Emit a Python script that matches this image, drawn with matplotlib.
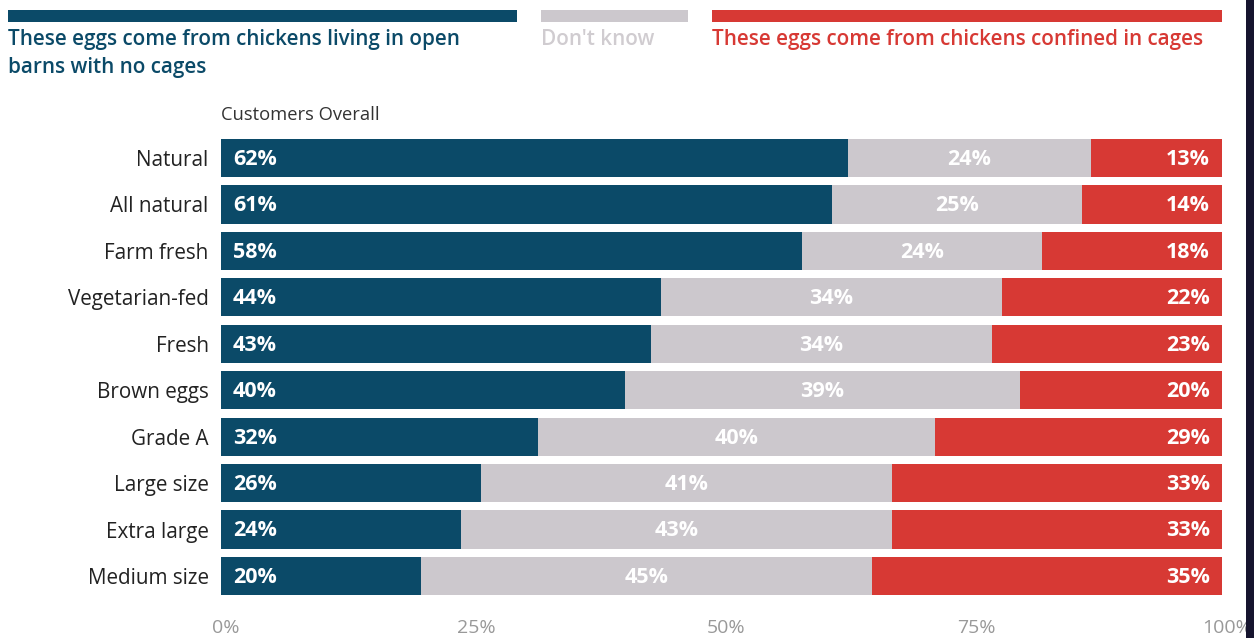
import matplotlib
matplotlib.use("Agg")
import matplotlib.pyplot as plt
import numpy as np
from matplotlib.patches import Rectangle
from matplotlib.transforms import ScaledTranslation

plt.rcParams['font.family'] = ['Open Sans', 'DejaVu Sans']

categories = ["Natural", "All natural", "Farm fresh", "Vegetarian-fed", "Fresh",
              "Brown eggs", "Grade A", "Large size", "Extra large", "Medium size"]
open_barns = [62, 61, 58, 44, 43, 40, 32, 26, 24, 20]
dont_know = [24, 25, 24, 34, 34, 39, 40, 41, 43, 45]
caged = [13, 14, 18, 22, 23, 20, 29, 33, 33, 35]
tick_values = [0, 25, 50, 75, 100]
tick_labels = ["0%", "25%", "50%", "75%", "100%"]

BLUE = "#0b4a68"
GREY = "#ccc8cd"
RED = "#d73934"

W, H = 1254, 638
fig = plt.figure(figsize=(W / 100, H / 100), dpi=100)
fig.patch.set_facecolor("white")

ax = fig.add_axes([221 / W, 1 - 599.2 / H, (1222 - 221) / W, (599.2 - 134.8) / H])

# each row is scaled so the three shares fill the full width
a = np.array(open_barns, float)
b = np.array(dont_know, float)
c = np.array(caged, float)
tot = a + b + c
a_n, b_n, c_n = a / tot * 100, b / tot * 100, c / tot * 100

y = np.arange(len(categories))
h = 0.82
ax.barh(y, a_n, height=h, color=BLUE, linewidth=0)
ax.barh(y, b_n, left=a_n, height=h, color=GREY, linewidth=0)
ax.barh(y, c_n, left=a_n + b_n, height=h, color=RED, linewidth=0)

lab = dict(color="white", fontsize=15.5, fontweight="bold", va="center")
for i in range(len(categories)):
    yy = y[i] + 0.03
    ax.text(1.2, yy, f"{open_barns[i]}%", ha="left", **lab)
    ax.text(a_n[i] + b_n[i] / 2, yy, f"{dont_know[i]}%", ha="center", **lab)
    ax.text(98.8, yy, f"{caged[i]}%", ha="right", **lab)

ax.set_xlim(0, 100)
ax.set_ylim(len(categories) - 0.5, -0.5)
ax.set_yticks(y)
ax.set_yticklabels(categories, fontsize=14.9, color="#222222")
ax.set_xticks(tick_values)
ax.set_xticklabels(tick_labels, fontsize=14, color="#999999")
ax.tick_params(axis="y", length=0, pad=9)
ax.tick_params(axis="x", length=0, pad=14)
shift = ScaledTranslation(5 / 100, 0, fig.dpi_scale_trans)
for t in ax.get_xticklabels():
    t.set_transform(t.get_transform() + shift)
for s in ax.spines.values():
    s.set_visible(False)

ax.text(0, -0.93, "Customers Overall", fontsize=13.2, color="#333333",
        ha="left", va="center")

# legend strips along the top
def strip(x0, x1, color):
    fig.patches.append(Rectangle((x0 / W, 1 - 22 / H), (x1 - x0) / W, 12 / H,
                                 transform=fig.transFigure, color=color, lw=0))

strip(8, 517, BLUE)
strip(541, 688, GREY)
strip(712, 1222, RED)

legend_font = dict(fontsize=14.9, fontweight="semibold", va="top", ha="left",
                   linespacing=1.45)
fig.text(8 / W, 1 - 29 / H, "These eggs come from chickens living in open\nbarns with no cages",
         color=BLUE, **legend_font)
fig.text(541 / W, 1 - 29 / H, "Don't know", color="#d0ccd0", **legend_font)
fig.text(712 / W, 1 - 29 / H, "These eggs come from chickens confined in cages",
         color=RED, **legend_font)

# dark strip on the right edge
fig.patches.append(Rectangle((1246 / W, 0), 8 / W, 1, transform=fig.transFigure,
                             color="#16142e", lw=0, zorder=10))

fig.savefig("out.png", dpi=100, facecolor="white")
